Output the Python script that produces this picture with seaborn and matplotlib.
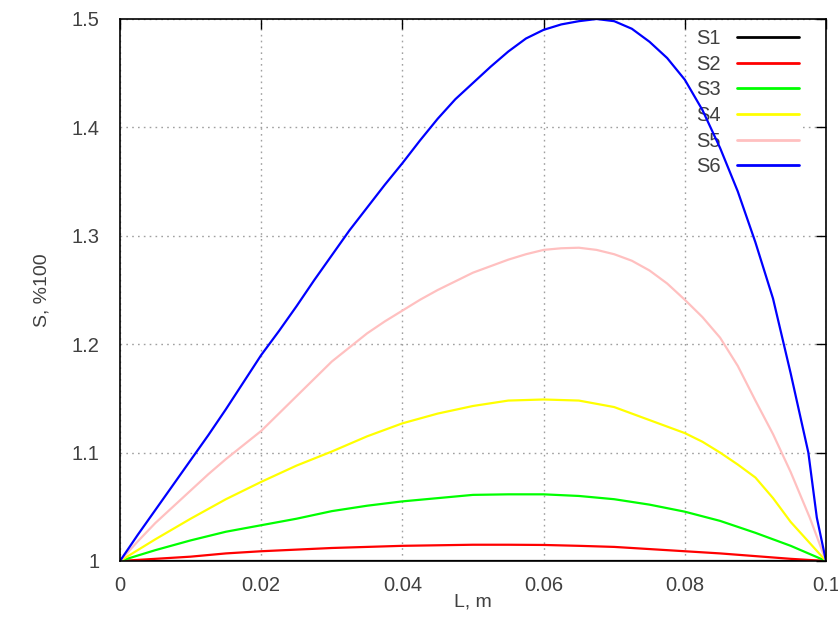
import matplotlib
matplotlib.use("Agg")
import matplotlib.pyplot as plt
import matplotlib.ticker as mticker
from matplotlib.lines import Line2D
import pandas as pd
import seaborn as sns

# ---- data ----
x_common = [0.0, 0.005, 0.01, 0.015, 0.02, 0.025, 0.03, 0.035, 0.04, 0.045, 0.05,
            0.055, 0.06, 0.065, 0.07, 0.075, 0.08, 0.085, 0.09, 0.095, 0.1]

s1 = [1.0] * 21
s2 = [1.0, 1.002, 1.004, 1.007, 1.009, 1.0105, 1.012, 1.013, 1.014, 1.0145, 1.015,
      1.015, 1.0148, 1.014, 1.013, 1.011, 1.009, 1.007, 1.0045, 1.002, 1.0]
s3 = [1.0, 1.010, 1.019, 1.027, 1.033, 1.039, 1.046, 1.051, 1.055, 1.058, 1.061,
      1.0615, 1.0615, 1.060, 1.057, 1.052, 1.0455, 1.037, 1.026, 1.014, 1.0]

x_s4 = [0.0, 0.005, 0.01, 0.015, 0.02, 0.025, 0.03, 0.035, 0.04, 0.045, 0.05,
        0.055, 0.06, 0.065, 0.07, 0.075, 0.08, 0.0825, 0.085, 0.0875, 0.09,
        0.0925, 0.095, 0.0975, 0.1]
s4 = [1.0, 1.020, 1.039, 1.057, 1.073, 1.088, 1.101, 1.115, 1.127, 1.136, 1.143,
      1.148, 1.149, 1.148, 1.142, 1.130, 1.118, 1.110, 1.100, 1.089, 1.077,
      1.058, 1.036, 1.018, 1.0]

x_s5 = [0.0, 0.0025, 0.005, 0.0075, 0.01, 0.0125, 0.015, 0.0175, 0.02, 0.0225,
        0.025, 0.0275, 0.03, 0.0325, 0.035, 0.0375, 0.04, 0.0425, 0.045, 0.0475,
        0.05, 0.0525, 0.055, 0.0575, 0.06, 0.0625, 0.065, 0.0675, 0.07, 0.0725,
        0.075, 0.0775, 0.08, 0.0825, 0.085, 0.0875, 0.09, 0.0925, 0.095, 0.0977,
        0.1]
s5 = [1.0, 1.018, 1.035, 1.050, 1.065, 1.080, 1.094, 1.107, 1.120, 1.136,
      1.152, 1.168, 1.184, 1.197, 1.210, 1.221, 1.231, 1.241, 1.250, 1.258,
      1.266, 1.272, 1.278, 1.283, 1.287, 1.2885, 1.289, 1.287, 1.283, 1.277,
      1.268, 1.256, 1.241, 1.225, 1.206, 1.180, 1.148, 1.117, 1.082, 1.040,
      1.0]

x_s6 = [0.0, 0.0025, 0.005, 0.0075, 0.01, 0.0125, 0.015, 0.0175, 0.02, 0.0225,
        0.025, 0.0275, 0.03, 0.0325, 0.035, 0.0375, 0.04, 0.0425, 0.045, 0.0475,
        0.05, 0.0525, 0.055, 0.0575, 0.06, 0.0625, 0.065, 0.0675, 0.07, 0.0725,
        0.075, 0.0775, 0.08, 0.0825, 0.085, 0.0875, 0.09, 0.0925, 0.095, 0.0975,
        0.0987, 0.1]
s6 = [1.0, 1.024, 1.047, 1.070, 1.093, 1.116, 1.140, 1.165, 1.190, 1.212,
      1.235, 1.259, 1.282, 1.305, 1.326, 1.347, 1.367, 1.388, 1.408, 1.426,
      1.441, 1.456, 1.470, 1.482, 1.490, 1.495, 1.498, 1.500, 1.498, 1.491,
      1.479, 1.464, 1.444, 1.416, 1.381, 1.341, 1.294, 1.242, 1.173, 1.100,
      1.040, 1.0]

series_names = ["S1", "S2", "S3", "S4", "S5", "S6"]
series_x = [x_common, x_common, x_common, x_s4, x_s5, x_s6]
series_y = [s1, s2, s3, s4, s5, s6]
colors = ["#000000", "#ff0000", "#00ff00", "#ffff00", "#ffc0c0", "#0000ff"]

x_ticks = [0, 0.02, 0.04, 0.06, 0.08, 0.1]
y_ticks = [1, 1.1, 1.2, 1.3, 1.4, 1.5]

rows = []
for name, xs, ys in zip(series_names, series_x, series_y):
    for xv, yv in zip(xs, ys):
        rows.append({"L": xv, "S": yv, "series": name})
df = pd.DataFrame(rows)

# ---- style ----
sns.set_style("white")
plt.rcParams["font.family"] = ["Liberation Sans", "DejaVu Sans"]
text_col = "#404040"

fig = plt.figure(figsize=(8.38, 6.37), dpi=100)
ax = fig.add_axes([120 / 838, 1 - 561 / 637, 706 / 838, 542 / 637])

sns.lineplot(data=df, x="L", y="S", hue="series", hue_order=series_names,
             palette=dict(zip(series_names, colors)), estimator=None, sort=False,
             linewidth=1.6, ax=ax, legend=False)

ax.set_xlim(0, 0.1)
ax.set_ylim(1, 1.5)
ax.set_xticks(x_ticks)
ax.set_yticks(y_ticks)
fmt = mticker.FuncFormatter(lambda v, p: "%g" % round(v, 4))
ax.xaxis.set_major_formatter(fmt)
ax.yaxis.set_major_formatter(fmt)

ax.tick_params(axis="both", direction="in", length=7, width=1, color="black",
               top=True, right=True, labelsize=14.5, labelcolor=text_col)
ax.tick_params(axis="x", pad=11)
ax.tick_params(axis="y", pad=15)

ax.set_axisbelow(True)
ax.grid(True, color="#a0a0a0", linestyle=(0, (1.2, 3)), linewidth=1)

for sp in ax.spines.values():
    sp.set_visible(True)
    sp.set_color("black")
    sp.set_linewidth(1.2)

ax.set_xlabel("L, m", fontsize=14, color=text_col, labelpad=-1)
ax.set_ylabel("S, %100", fontsize=14, color=text_col, labelpad=15)

# legend: labels left, line samples right, opaque box under the curves
handles = [Line2D([], [], color=c, linewidth=2) for c in colors]
leg = ax.legend(handles, series_names, loc="upper right",
                bbox_to_anchor=((803 - 120) / 706, 1 - (25 - 19) / 542),
                markerfirst=False, frameon=True, fontsize=14.5,
                handlelength=3.1, handletextpad=0.8, labelspacing=0.33,
                borderpad=0.2, borderaxespad=0)
for t in leg.get_texts():
    t.set_color(text_col)
fr = leg.get_frame()
fr.set_facecolor("white")
fr.set_edgecolor("none")
fr.set_alpha(1)
fr.set_boxstyle("square", pad=0)
leg.set_zorder(1.5)

fig.savefig("out.png", dpi=100)
